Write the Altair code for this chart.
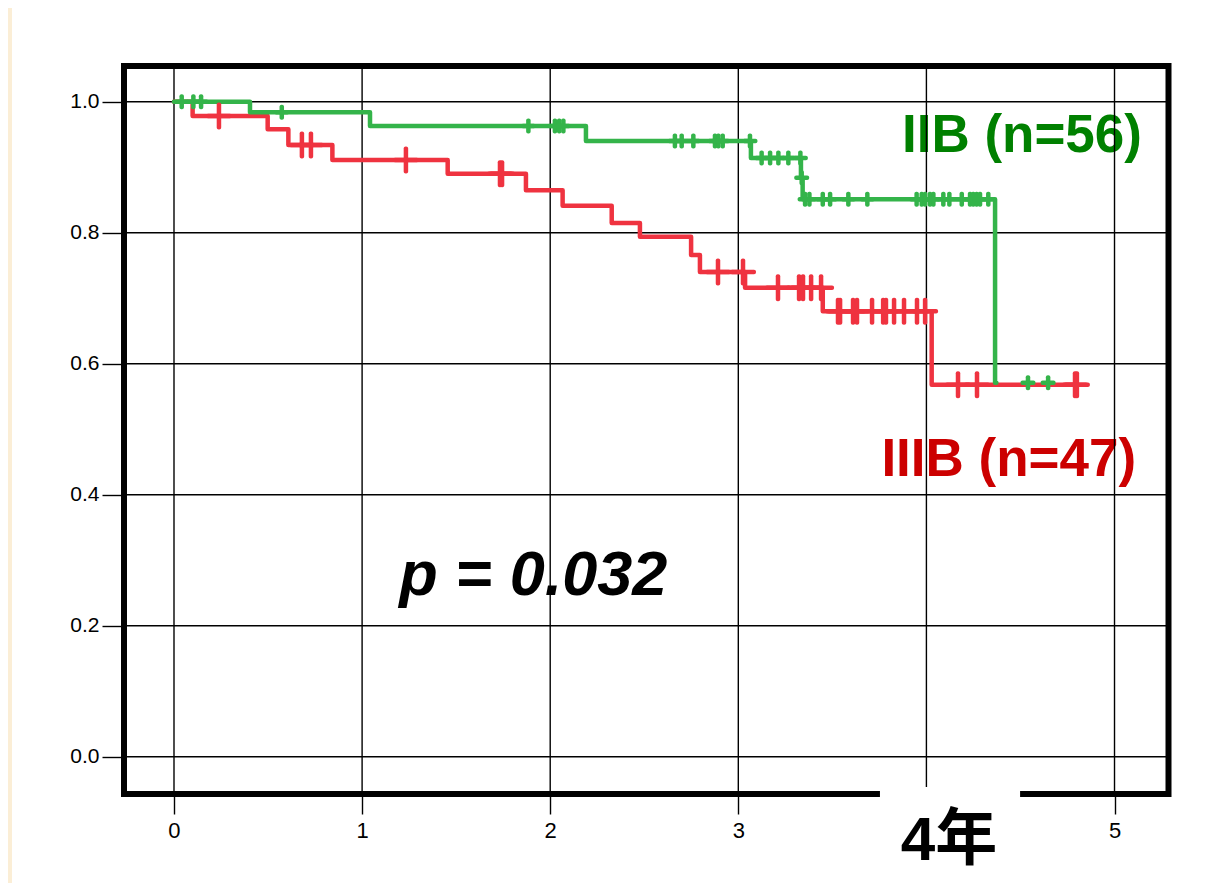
import bisect
import altair as alt
import pandas as pd

# ---------------- data ----------------
# IIIB (red) Kaplan-Meier steps: time (years) and survival after the step
red_t = [0, 0.099, 0.498, 0.608, 0.842, 1.455, 1.871, 2.066, 2.327, 2.477,
         2.749, 2.796, 3.036, 3.449, 4.028, 4.800]
red_s = [1.0, 0.978, 0.958, 0.934, 0.911, 0.890, 0.865, 0.841, 0.815, 0.794,
         0.766, 0.740, 0.716, 0.680, 0.568, 0.568]
red_censor = [0.239, 0.680, 0.728, 1.233, 1.733, 1.744, 2.892, 3.025, 3.211,
              3.323, 3.344, 3.387, 3.440, 3.530, 3.541, 3.610, 3.631, 3.711,
              3.770, 3.785, 3.828, 3.881, 3.950, 3.993, 4.168, 4.269, 4.790,
              4.800]

# IIB (green)
green_t = [0, 0.404, 1.042, 2.190, 3.067, 3.333, 3.342, 4.365, 4.372]
green_s = [1.0, 0.984, 0.963, 0.940, 0.914, 0.884, 0.851, 0.571, 0.571]
green_censor = [0.041, 0.103, 0.144, 0.573, 1.884, 2.025, 2.048, 2.070, 2.663,
                2.699, 2.761, 2.876, 2.894, 2.917, 3.062, 3.124, 3.169, 3.213,
                3.266, 3.330, 3.337, 3.355, 3.378, 3.449, 3.488, 3.585, 3.686,
                3.948, 3.975, 3.993, 4.019, 4.037, 4.090, 4.122, 4.188, 4.232,
                4.249, 4.267, 4.285, 4.329, 4.540, 4.647]

x_grid = [0, 1, 2, 3, 4, 5]
x_labels = [0, 1, 2, 3, 5]
y_grid = [0.0, 0.2, 0.4, 0.6, 0.8, 1.0]

label_iib = "IIB (n=56)"
label_iiib = "IIIB (n=47)"
label_p = "p = 0.032"
label_x = "4年"

# ---------------- styling ----------------
RED = "#ef3340"
GREEN = "#34b44a"
RED_TXT = "#cc0000"
GREEN_TXT = "#008000"
CREAM = "#fbeed6"
FONT = "Liberation Sans"

X_MIN, X_MAX = -0.2658, 5.287
Y_MIN, Y_MAX = -0.0569, 1.0545
W, H = 1044.5, 728

xs = alt.Scale(domain=[X_MIN, X_MAX], nice=False, zero=False)
ys = alt.Scale(domain=[Y_MIN, Y_MAX], nice=False, zero=False)


def level(ts, ss, t):
    i = bisect.bisect_right(ts, t) - 1
    return ss[max(i, 0)]


red_df = pd.DataFrame({"t": red_t, "s": red_s})
green_df = pd.DataFrame({"t": green_t, "s": green_s})
red_c = pd.DataFrame({"t": red_censor, "s": [level(red_t, red_s, t) for t in red_censor]})
green_c = pd.DataFrame({"t": green_censor, "s": [level(green_t, green_s, t) for t in green_censor]})

one = alt.Data(values=[{}])

# cream strip at the far left
strip = alt.Chart(one).mark_rect(color=CREAM).encode(
    x=alt.value(-116), x2=alt.value(-112), y=alt.value(-58), y2=alt.value(817)
)

# annotation texts (drawn under the grid, as in the reference)
t_iib = alt.Chart(one).mark_text(
    text=label_iib, font=FONT, fontWeight="bold", fontSize=53, color=GREEN_TXT,
    align="right", baseline="alphabetic"
).encode(x=alt.datum(5.146, scale=xs), y=alt.datum(0.9237, scale=ys))

t_iiib = alt.Chart(one).mark_text(
    text=label_iiib, font=FONT, fontWeight="bold", fontSize=53, color=RED_TXT,
    align="right", baseline="alphabetic"
).encode(x=alt.datum(5.115), y=alt.datum(0.429))

t_p = alt.Chart(one).mark_text(
    text=label_p, font=FONT, fontWeight="bold", fontStyle="italic", fontSize=63,
    color="black", align="left", baseline="alphabetic"
).encode(x=alt.datum(1.198), y=alt.datum(0.2469))

# grid
gx = alt.Chart(pd.DataFrame({"g": x_grid})).mark_rule(color="black", strokeWidth=1.4).encode(
    x=alt.X("g:Q", scale=xs), y=alt.datum(Y_MAX), y2=alt.datum(Y_MIN)
)
gy = alt.Chart(pd.DataFrame({"g": y_grid})).mark_rule(color="black", strokeWidth=1.4).encode(
    y=alt.Y("g:Q", scale=ys), x=alt.datum(X_MIN), x2=alt.datum(X_MAX)
)

# frame
frame = alt.Chart(one).mark_rect(filled=False, stroke="black", strokeWidth=6).encode(
    x=alt.datum(X_MIN), x2=alt.datum(X_MAX), y=alt.datum(Y_MIN), y2=alt.datum(Y_MAX)
)

x_axis = alt.Axis(values=x_labels, format="d", grid=False, domain=False, tickSize=20,
                  tickColor="black", tickWidth=1.4, labelFont=FONT, labelFontSize=22,
                  labelColor="black", labelPadding=6, labelFlush=False, title=None)
y_axis = alt.Axis(values=y_grid, format=".1f", grid=False, domain=False, tickSize=22,
                  tickColor="black", tickWidth=1.4, labelFont=FONT, labelFontSize=21,
                  labelColor="black", labelPadding=3, title=None)

red_line = alt.Chart(red_df).mark_line(
    interpolate="step-after", color=RED, strokeWidth=4.5, strokeCap="round", strokeJoin="round"
).encode(x=alt.X("t:Q", scale=xs, axis=x_axis), y=alt.Y("s:Q", scale=ys, axis=y_axis))

green_line = alt.Chart(green_df).mark_line(
    interpolate="step-after", color=GREEN, strokeWidth=4.5, strokeCap="round", strokeJoin="round"
).encode(x=alt.X("t:Q"), y=alt.Y("s:Q"))

red_v = alt.Chart(red_c).mark_tick(orient="vertical", size=27, thickness=4.5, color=RED,
                                   opacity=1, cornerRadius=2).encode(x="t:Q", y="s:Q")
red_h = alt.Chart(red_c).mark_tick(orient="horizontal", size=26, thickness=4.5, color=RED,
                                   opacity=1, cornerRadius=2).encode(x="t:Q", y="s:Q")
green_v = alt.Chart(green_c).mark_tick(orient="vertical", size=15, thickness=4.5, color=GREEN,
                                       opacity=1, cornerRadius=2).encode(x="t:Q", y="s:Q")
green_h = alt.Chart(green_c).mark_tick(orient="horizontal", size=15, thickness=4.5, color=GREEN,
                                       opacity=1, cornerRadius=2).encode(x="t:Q", y="s:Q")

# white box covering the bottom frame around the "4年" label
wbox = alt.Chart(one).mark_rect(color="white").encode(
    x=alt.datum(3.753), x2=alt.datum(4.498), y=alt.datum(-0.0463), y2=alt.datum(-0.1806)
)
t_x = alt.Chart(one).mark_text(
    text=label_x, font="Liberation Sans, Noto Sans CJK JP", fontWeight="bold", fontSize=62,
    color="black", align="center", baseline="alphabetic", dx=22.5
).encode(x=alt.datum(4.0), y=alt.datum(-0.1577))

chart = alt.layer(
    strip, t_iib, t_iiib, t_p, gx, gy, frame, red_line, green_line,
    red_v, red_h, green_v, green_h, wbox, t_x
).properties(
    width=W, height=H,
    autosize=alt.AutoSizeParams(type="none"),
    padding={"left": 116, "top": 58, "right": 28.5, "bottom": 89},
).configure(background="white").configure_view(stroke="transparent")

chart.save("out.html", embed_options={"renderer": "svg", "actions": False})
